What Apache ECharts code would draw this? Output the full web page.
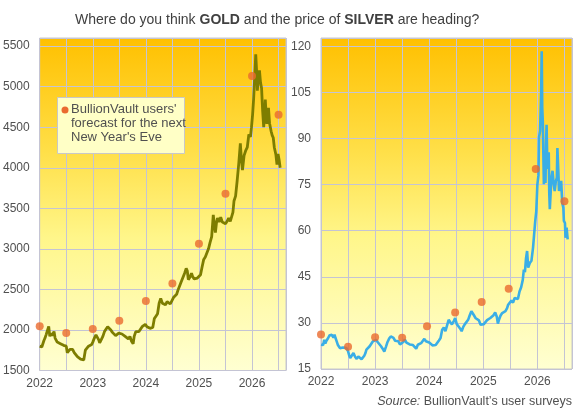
<!DOCTYPE html>
<html><head><meta charset="utf-8">
<script src="https://cdn.jsdelivr.net/npm/echarts@6/dist/echarts.min.js"></script>
<style>html,body{margin:0;padding:0;background:#fff}#c{width:578px;height:414px}</style>
</head><body><div id="c"></div>
<script>
var yearTicks = [2022, 2023, 2024, 2025, 2026];
var forecastDates = [2022.0, 2022.5, 2023.0, 2023.5, 2024.0, 2024.5, 2025.0, 2025.5, 2026.0, 2026.5];
var silverForecastDates = [2022.0, 2022.5, 2023.0, 2023.5, 2023.96, 2024.48, 2024.97, 2025.47, 2025.97, 2026.5];
var goldForecast = [2045, 1962, 2011, 2113, 2357, 2574, 3064, 3681, 5130, 4653];
var silverForecast = [26.2, 22.2, 25.3, 25.2, 28.9, 33.4, 36.8, 41.1, 80.1, 69.6];

var goldDates = [2022.00,2022.02,2022.04,2022.06,2022.08,2022.10,2022.12,2022.15,2022.17,2022.19,2022.21,2022.23,2022.25,2022.27,2022.29,2022.31,2022.33,2022.36,2022.39,2022.42,2022.45,2022.48,2022.50,2022.52,2022.54,2022.57,2022.60,2022.62,2022.65,2022.68,2022.71,2022.74,2022.77,2022.80,2022.83,2022.86,2022.89,2022.92,2022.95,2022.98,2023.00,2023.03,2023.06,2023.08,2023.11,2023.13,2023.16,2023.19,2023.22,2023.25,2023.28,2023.31,2023.34,2023.37,2023.40,2023.43,2023.46,2023.49,2023.52,2023.55,2023.58,2023.61,2023.64,2023.67,2023.70,2023.73,2023.76,2023.78,2023.81,2023.84,2023.87,2023.90,2023.93,2023.96,2023.99,2024.02,2024.05,2024.08,2024.11,2024.13,2024.16,2024.19,2024.22,2024.25,2024.28,2024.31,2024.34,2024.37,2024.40,2024.43,2024.46,2024.49,2024.52,2024.55,2024.58,2024.61,2024.64,2024.67,2024.70,2024.73,2024.76,2024.78,2024.80,2024.83,2024.86,2024.88,2024.91,2024.94,2024.97,2025.00,2025.03,2025.06,2025.09,2025.12,2025.15,2025.18,2025.21,2025.24,2025.27,2025.29,2025.31,2025.33,2025.35,2025.38,2025.41,2025.44,2025.47,2025.50,2025.53,2025.56,2025.59,2025.62,2025.64,2025.66,2025.69,2025.72,2025.75,2025.78,2025.80,2025.82,2025.85,2025.88,2025.91,2025.94,2025.97,2025.99,2026.01,2026.03,2026.05,2026.07,2026.09,2026.10,2026.12,2026.14,2026.16,2026.18,2026.20,2026.22,2026.24,2026.25,2026.27,2026.28,2026.30,2026.31,2026.33,2026.36,2026.38,2026.40,2026.42,2026.45,2026.47,2026.49,2026.51,2026.53];
var goldPrices = [1800,1820,1790,1830,1870,1900,1940,1930,2045,1920,1960,1930,1950,1980,1900,1880,1850,1840,1830,1830,1810,1820,1800,1720,1730,1760,1780,1760,1720,1700,1670,1680,1640,1650,1630,1750,1760,1800,1810,1820,1850,1900,1940,1920,1880,1840,1830,1920,1980,2000,2040,2020,2000,1970,1960,1930,1920,1960,1940,1950,1930,1920,1920,1890,1920,1860,1830,1920,1980,1990,1980,2000,2040,2060,2070,2040,2030,2020,2000,2030,2140,2170,2200,2330,2390,2330,2350,2310,2350,2330,2320,2340,2400,2380,2440,2500,2520,2600,2650,2700,2760,2730,2620,2650,2700,2660,2630,2620,2640,2630,2680,2780,2870,2900,2910,3000,3080,3150,3420,3300,3200,3320,3380,3330,3390,3330,3340,3310,3340,3380,3340,3350,3450,3590,3650,3840,4050,4300,4100,3970,4150,4210,4250,4410,4380,4500,4650,4850,5110,5400,5150,4950,5100,5200,5050,4980,4700,4500,4700,4840,4600,4540,4700,4740,4550,4450,4400,4370,4250,4160,4040,4170,4100,4000];

var silverDates = [2022.00,2022.02,2022.04,2022.06,2022.08,2022.10,2022.13,2022.16,2022.18,2022.20,2022.23,2022.25,2022.27,2022.29,2022.31,2022.33,2022.35,2022.38,2022.41,2022.44,2022.47,2022.50,2022.52,2022.54,2022.57,2022.60,2022.63,2022.66,2022.69,2022.72,2022.75,2022.78,2022.80,2022.82,2022.84,2022.87,2022.90,2022.93,2022.96,2022.99,2023.02,2023.05,2023.08,2023.11,2023.14,2023.17,2023.20,2023.23,2023.26,2023.29,2023.31,2023.34,2023.37,2023.40,2023.43,2023.46,2023.49,2023.52,2023.55,2023.58,2023.61,2023.64,2023.67,2023.70,2023.73,2023.76,2023.79,2023.82,2023.85,2023.88,2023.91,2023.94,2023.97,2024.00,2024.03,2024.06,2024.09,2024.12,2024.15,2024.18,2024.21,2024.24,2024.27,2024.30,2024.33,2024.36,2024.39,2024.42,2024.45,2024.48,2024.51,2024.54,2024.57,2024.60,2024.63,2024.66,2024.69,2024.72,2024.75,2024.78,2024.80,2024.83,2024.86,2024.89,2024.92,2024.95,2024.98,2025.01,2025.04,2025.07,2025.10,2025.13,2025.16,2025.19,2025.22,2025.25,2025.27,2025.29,2025.32,2025.35,2025.38,2025.41,2025.44,2025.46,2025.49,2025.52,2025.55,2025.58,2025.61,2025.64,2025.67,2025.70,2025.73,2025.75,2025.77,2025.79,2025.81,2025.83,2025.86,2025.89,2025.92,2025.94,2025.96,2025.98,2026.00,2026.02,2026.03,2026.05,2026.07,2026.08,2026.09,2026.10,2026.12,2026.13,2026.14,2026.15,2026.16,2026.17,2026.18,2026.19,2026.21,2026.22,2026.23,2026.25,2026.26,2026.28,2026.30,2026.32,2026.34,2026.36,2026.37,2026.39,2026.40,2026.42,2026.44,2026.46,2026.48,2026.49,2026.51,2026.52,2026.54,2026.56];
var silverPrices = [22.9,23.5,22.8,24.5,23.3,24.2,25.0,26.0,25.4,26.1,25.2,26.2,25.0,24.0,22.9,22.3,21.8,22.4,22.0,22.4,21.8,20.8,19.5,18.6,19.2,20.2,19.0,18.3,19.1,18.8,18.2,18.0,19.3,20.1,21.3,21.6,22.4,23.0,24.0,23.8,24.5,23.7,23.2,22.4,21.6,20.7,22.2,23.8,24.9,25.6,26.2,25.1,24.2,23.6,24.0,23.0,22.8,23.8,24.6,23.6,24.2,23.0,23.6,22.8,22.2,21.6,22.9,23.0,23.4,24.1,24.8,24.0,23.4,23.6,23.0,22.7,22.6,22.8,22.9,24.3,25.1,27.8,28.5,27.3,27.6,31.0,30.2,29.5,30.4,31.6,29.6,28.9,28.2,27.3,28.7,29.6,30.2,31.0,32.5,33.8,34.3,32.4,31.5,31.8,30.8,29.4,28.9,29.6,30.0,30.9,31.3,31.6,32.2,32.5,33.4,32.0,29.8,31.0,32.4,33.2,32.6,33.8,34.8,35.9,36.2,37.3,36.6,38.1,37.6,37.8,40.2,41.6,44.0,47.3,46.5,51.0,53.4,48.0,49.5,50.2,54.5,58.8,63.0,66.4,75.1,78.0,90.3,92.5,105.0,118.4,100.0,95.7,75.1,82.0,86.0,75.5,88.0,94.5,85.0,80.1,85.5,72.0,67.0,74.0,77.3,79.5,75.5,72.9,76.0,77.3,86.9,78.0,72.9,74.5,76.2,69.0,67.5,63.2,62.5,57.7,61.0,57.2];

function zip(a, b) { return a.map(function (v, i) { return [v, b[i]]; }); }

var bg = {type: 'linear', x: 0, y: 0, x2: 0, y2: 1, colorStops: [
  {offset: 0, color: '#FFC000'}, {offset: 0.35, color: '#FFE04A'},
  {offset: 0.6, color: '#FFF68A'}, {offset: 1, color: '#FFFFD2'}]};
var gridCommon = {show: true, backgroundColor: bg, borderColor: '#C8C8C8', borderWidth: 1, containLabel: false};
var lblColor = '#505050';
var splitStyle = {lineStyle: {color: '#C4C4D4', width: 1}};
function xAxis(idx) {
  return {type: 'value', gridIndex: idx, min: 2022, max: 2026.64, interval: 0.5,
    axisLine: {show: false}, axisTick: {show: false}, splitLine: splitStyle,
    axisLabel: {color: lblColor, fontSize: 12, fontFamily: 'Liberation Sans', margin: 7,
      formatter: function (v) { return yearTicks.indexOf(v) >= 0 ? String(v) : ''; }}};
}
var chart = echarts.init(document.getElementById('c'), null, {renderer: 'canvas'});
chart.setOption({
  animation: false,
  backgroundColor: '#fff',
  title: {text: 'Where do you think {b|GOLD} and the price of {b|SILVER} are heading?', left: 70, top: 8,
    textStyle: {fontSize: 14, fontWeight: 'normal', color: '#404040', fontFamily: 'Liberation Sans',
      rich: {b: {fontSize: 14, fontWeight: 'bold', color: '#404040', fontFamily: 'Liberation Sans'}}}},
  grid: [
    Object.assign({left: 37, top: 38, width: 249, height: 332.5}, gridCommon),
    Object.assign({left: 321, top: 38, width: 251, height: 331}, gridCommon)
  ],
  xAxis: [xAxis(0), xAxis(1)],
  yAxis: [
    {type: 'value', gridIndex: 0, min: 1500, max: 5600, interval: 500,
      axisLine: {show: false}, axisTick: {show: false}, splitLine: splitStyle,
      axisLabel: {color: lblColor, fontSize: 12, fontFamily: 'Liberation Sans', margin: 10,
        formatter: function (v) { return v > 5500 ? '' : String(v); }}},
    {type: 'value', gridIndex: 1, min: 15, max: 122.7, interval: 15,
      axisLine: {show: false}, axisTick: {show: false}, splitLine: splitStyle,
      axisLabel: {color: lblColor, fontSize: 12, fontFamily: 'Liberation Sans', margin: 10,
        formatter: function (v) { return v > 120 ? '' : String(v); }}}
  ],
  series: [
    {type: 'line', xAxisIndex: 0, yAxisIndex: 0, data: zip(goldDates, goldPrices), showSymbol: false,
      lineStyle: {color: '#7D7D00', width: 2.8}, z: 3},
    {type: 'line', xAxisIndex: 1, yAxisIndex: 1, data: zip(silverDates, silverPrices), showSymbol: false,
      lineStyle: {color: '#3AAEE6', width: 2.6}, z: 3},
    {type: 'scatter', xAxisIndex: 0, yAxisIndex: 0, data: zip(forecastDates, goldForecast), symbolSize: 8,
      itemStyle: {color: '#EA6A2E'}, z: 4},
    {type: 'scatter', xAxisIndex: 1, yAxisIndex: 1, data: zip(silverForecastDates, silverForecast), symbolSize: 8,
      itemStyle: {color: '#EA6A2E'}, z: 4}
  ],
  graphic: [
    {type: 'rect', shape: {x: 57.5, y: 97.5, width: 127, height: 56}, z: 10,
      style: {fill: '#FFFFC6', stroke: '#C8C8C8', lineWidth: 1}},
    {type: 'circle', shape: {cx: 65, cy: 110, r: 3.5}, z: 11, style: {fill: '#EA6A2E'}},
    {type: 'text', x: 71, y: 102, z: 11,
      style: {text: "BullionVault users'\nforecast for the next\nNew Year's Eve", fill: '#505050',
        font: '13px "Liberation Sans"', lineHeight: 14}},
    {type: 'text', right: 6, top: 395, z: 11,
      style: {text: '{i|Source:} BullionVault\u2019s user surveys', fill: '#505050', font: '12.5px "Liberation Sans"',
        rich: {i: {fontStyle: 'italic', fontSize: 12.5, fontFamily: 'Liberation Sans', fill: '#505050'}}}}
  ]
});
</script></body></html>
